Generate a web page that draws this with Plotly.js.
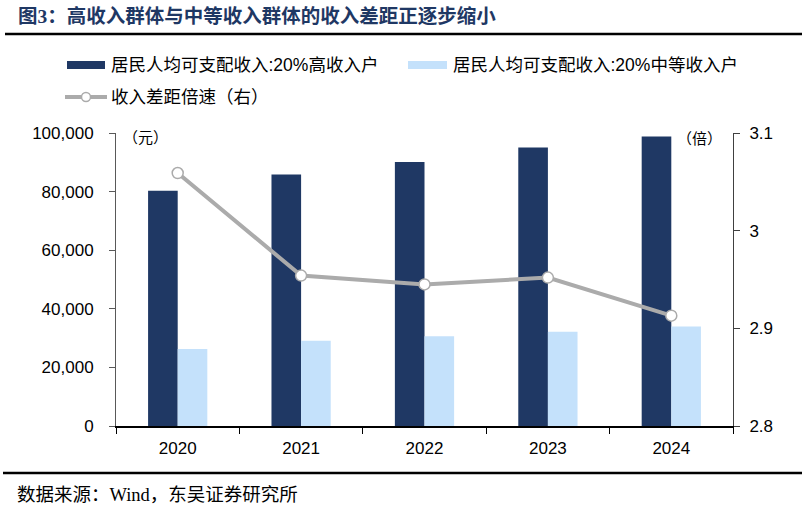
<!DOCTYPE html>
<html>
<head>
<meta charset="utf-8">
<script src="https://cdn.plot.ly/plotly-3.0.1.min.js"></script>
<style>
  html, body { margin: 0; padding: 0; background: #fff; }
  #chart { width: 805px; height: 507px; }
</style>
</head>
<body>
<div id="chart"></div>
<script>
// data
const years = ["2020", "2021", "2022", "2023", "2024"];
const highIncome = [80294, 85836, 90116, 95055, 98809];
const middleIncome = [26249, 29053, 30598, 32195, 33925];
const gapRatio = [3.059, 2.954, 2.945, 2.952, 2.913];

const seriesNames = [
	"居民人均可支配收入:20%高收入户",
	"居民人均可支配收入:20%中等收入户",
	"收入差距倍速（右）"
];
const chartTitle = "图3：高收入群体与中等收入群体的收入差距正逐步缩小";
const sourceNote = "数据来源：Wind，东吴证券研究所";

const darkBlue = "#1f3864";
const lightBlue = "#c4e1fb";
const lineGray = "#ababab";
const cjk = "Liberation Sans, Noto Sans CJK SC, sans-serif";
const serif = "Liberation Serif, Noto Sans CJK SC, serif";

// plot area in pixels, used to place the hand drawn legend and rules
const plotL = 116, plotR = 733, plotT = 133, plotB = 426;
function px(x) { return (x - plotL) / (plotR - plotL); }
function py(y) { return (plotB - y) / (plotB - plotT); }

let traceHigh = {
	type: "bar",
	x: years,
	y: highIncome,
	name: seriesNames[0],
	marker: {color: darkBlue},
	showlegend: false
};
let traceMiddle = {
	type: "bar",
	x: years,
	y: middleIncome,
	name: seriesNames[1],
	marker: {color: lightBlue},
	showlegend: false
};
let traceRatio = {
	type: "scatter",
	mode: "lines+markers",
	x: years,
	y: gapRatio,
	yaxis: "y2",
	name: seriesNames[2],
	line: {color: lineGray, width: 4},
	marker: {size: 11, color: "#ffffff", line: {color: lineGray, width: 1.5}},
	showlegend: false
};

let shapes = [
	// top and bottom rules
	{type: "line", xref: "paper", yref: "paper", x0: px(5), x1: px(802), y0: py(34), y1: py(34),
	 line: {color: "#000", width: 2.5}},
	{type: "line", xref: "paper", yref: "paper", x0: px(3), x1: px(802), y0: py(473), y1: py(473),
	 line: {color: "#000", width: 2.5}},
	// legend swatches
	{type: "rect", xref: "paper", yref: "paper", x0: px(67), x1: px(105), y0: py(69), y1: py(61),
	 fillcolor: darkBlue, line: {width: 0}},
	{type: "rect", xref: "paper", yref: "paper", x0: px(408), x1: px(447), y0: py(69), y1: py(61),
	 fillcolor: lightBlue, line: {width: 0}},
	{type: "line", xref: "paper", yref: "paper", x0: px(65), x1: px(107), y0: py(97), y1: py(97),
	 line: {color: lineGray, width: 4}},
	{type: "circle", xref: "paper", yref: "paper", x0: px(81.5), x1: px(90.5), y0: py(101.5), y1: py(92.5),
	 fillcolor: "#ffffff", line: {color: lineGray, width: 1.5}}
];

let annotations = [
	{text: "<b>" + chartTitle + "</b>", xref: "paper", yref: "paper", x: px(16), y: py(16),
	 xanchor: "left", yanchor: "middle", showarrow: false,
	 font: {family: serif, size: 19.5, color: "#1f3864"}},
	{text: sourceNote, xref: "paper", yref: "paper", x: px(15), y: py(495),
	 xanchor: "left", yanchor: "middle", showarrow: false,
	 font: {family: serif, size: 18.5, color: "#000"}},
	{text: seriesNames[0], xref: "paper", yref: "paper", x: px(109), y: py(65),
	 xanchor: "left", yanchor: "middle", showarrow: false,
	 font: {family: cjk, size: 17.5, color: "#000"}},
	{text: seriesNames[1], xref: "paper", yref: "paper", x: px(451), y: py(65),
	 xanchor: "left", yanchor: "middle", showarrow: false,
	 font: {family: cjk, size: 17.5, color: "#000"}},
	{text: seriesNames[2], xref: "paper", yref: "paper", x: px(109), y: py(97),
	 xanchor: "left", yanchor: "middle", showarrow: false,
	 font: {family: cjk, size: 17.5, color: "#000"}},
	{text: "（元）", xref: "paper", yref: "paper", x: px(145), y: py(137),
	 xanchor: "center", yanchor: "middle", showarrow: false,
	 font: {family: cjk, size: 15, color: "#000"}},
	{text: "（倍）", xref: "paper", yref: "paper", x: px(699), y: py(138),
	 xanchor: "center", yanchor: "middle", showarrow: false,
	 font: {family: cjk, size: 15, color: "#000"}}
];

let layout = {
	width: 805,
	height: 507,
	margin: {l: plotL, r: 805 - plotR, t: plotT, b: 507 - plotB, pad: 0},
	paper_bgcolor: "#ffffff",
	plot_bgcolor: "#ffffff",
	barmode: "group",
	bargap: 0.52,
	bargroupgap: 0,
	showlegend: false,
	font: {family: cjk, size: 16, color: "#000"},
	xaxis: {
		type: "category",
		showline: true,
		linecolor: "#000",
		linewidth: 1.5,
		ticks: "outside",
		tickson: "boundaries",
		ticklen: 6,
		tickcolor: "#000",
		showgrid: false,
		ticklabelstandoff: 6,
		tickfont: {family: cjk, size: 17, color: "#000"}
	},
	yaxis: {
		range: [0, 100000],
		dtick: 20000,
		tickformat: ",d",
		showline: true,
		linecolor: "#595959",
		ticks: "outside",
		ticklen: 6,
		tickcolor: "#595959",
		showgrid: false,
		zeroline: false,
		ticklabelstandoff: 12,
		tickfont: {family: cjk, size: 17, color: "#000"}
	},
	yaxis2: {
		overlaying: "y",
		side: "right",
		range: [2.8, 3.1],
		dtick: 0.1,
		showline: true,
		linecolor: "#404040",
		ticks: "outside",
		ticklen: 6,
		tickcolor: "#404040",
		showgrid: false,
		zeroline: false,
		ticklabelstandoff: 6,
		tickfont: {family: cjk, size: 17, color: "#000"}
	},
	shapes: shapes,
	annotations: annotations
};

Plotly.newPlot("chart", [traceHigh, traceMiddle, traceRatio], layout, {displayModeBar: false, staticPlot: true});
</script>
</body>
</html>
